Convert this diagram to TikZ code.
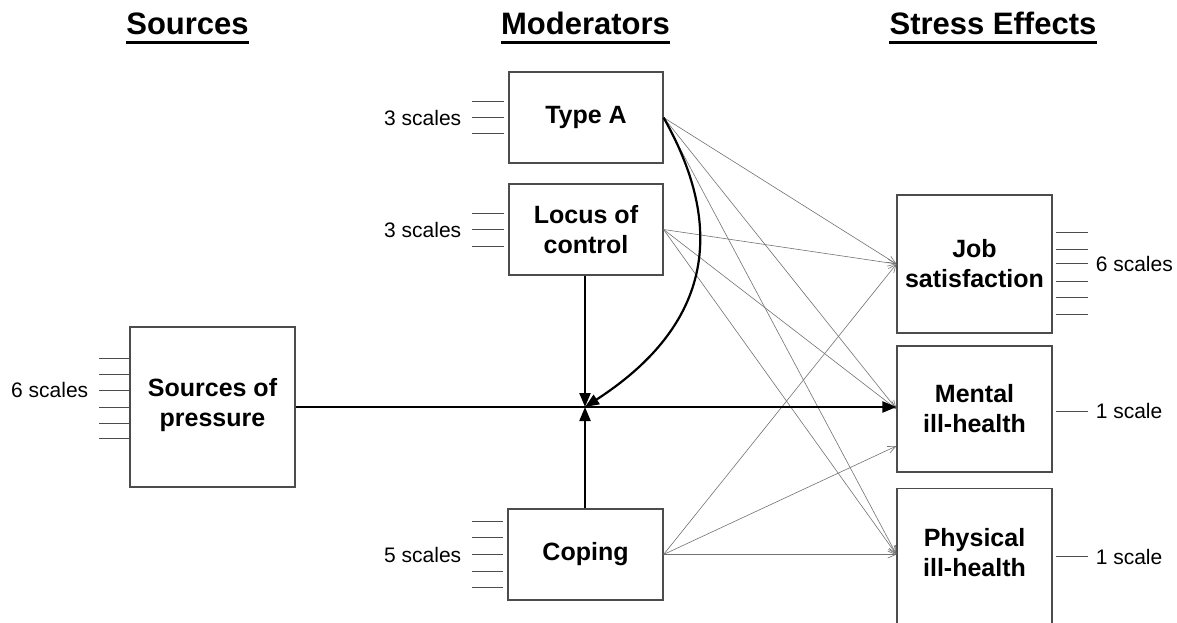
\documentclass[tikz,border=0pt]{standalone}
\usepackage{fontspec}
\setmainfont{Liberation Sans}
\usetikzlibrary{arrows.meta}
\begin{document}
\begin{tikzpicture}[x=1pt,y=-1pt,
  box/.style={draw=black!70,line width=1.1pt,inner sep=0pt,align=center,
    font=\fontsize{25}{30}\selectfont\bfseries,text=black},
  hdr/.style={inner sep=0pt,anchor=base,font=\fontsize{31}{36}\selectfont\bfseries},
  lbl/.style={inner sep=0pt,font=\fontsize{21}{24}\selectfont},
  scl/.style={draw=black!70,line width=0.8pt},
  thin/.style={draw=black!55,line width=0.6pt,-{Straight Barb[length=8pt,width=7pt]}},
  main/.style={draw=black,line width=2.2pt,-{Triangle[length=14pt,width=11pt]}}]
\useasboundingbox (0,0) rectangle (1177,623);
\clip (0,0) rectangle (1177,623);
\fill[white] (0,0) rectangle (1177,623);

% headers
\node[hdr] (hs) at (187.5,35) {Sources};
\node[hdr] (hm) at (585.5,35) {Moderators};
\node[hdr] (he) at (993,35) {Stress Effects};
\foreach \h in {hs,hm,he}
  \draw[line width=2.5pt] ([yshift=-7.5pt]\h.base west) -- ([yshift=-7.5pt]\h.base east);

% boxes
\node[box,minimum width=154pt,minimum height=91pt] (typeA) at (586,117.5) {Type A};
\node[box,minimum width=154pt,minimum height=91pt] (locus) at (586,229.5) {Locus of\\control};
\node[box,minimum width=155pt,minimum height=91pt] (coping) at (585.5,554.5) {Coping};
\node[box,minimum width=165pt,minimum height=160pt] (sources) at (212.5,407) {Sources of\\pressure\\[-20pt]\mbox{}};
\node[box,minimum width=155pt,minimum height=138pt] (job) at (974.5,264) {Job\\satisfaction};
\node[box,minimum width=155pt,minimum height=126pt] (mental) at (974.5,409) {Mental\\ill-health};
\node[box,minimum width=155pt,minimum height=150pt,anchor=north] (physical) at (974.5,488) {};
\node[inner sep=0pt,align=center,font=\fontsize{25}{30}\selectfont\bfseries] (phtext) at (974.5,553) {Physical\\ill-health};

% scale lines and labels
\foreach \dy in {-16,0,16}
  \draw[scl] ([shift={(-36,\dy)}]typeA.west) -- ++(32,0);
\node[lbl,anchor=east] (tAl) at ([xshift=-47pt]typeA.west) {3 scales};
\foreach \dy in {-16,0,17}
  \draw[scl] ([shift={(-36,\dy)}]locus.west) -- ++(32,0);
\node[lbl,anchor=east] (lcl) at ([xshift=-47pt]locus.west) {3 scales};
\foreach \dy in {-33,-17,0,17,33}
  \draw[scl] ([shift={(-35,\dy)}]coping.west) -- ++(31,0);
\node[lbl,anchor=east] (cpl) at ([xshift=-46pt]coping.west) {5 scales};
\foreach \dy in {-49,-33,-17,0,16,31}
  \draw[scl] ([shift={(-30,\dy)}]sources.west) -- ++(30,0);
\node[lbl,anchor=east] (spl) at ([shift={(-41,-17)}]sources.west) {6 scales};
\foreach \dy in {-32,-15,-1,17,33,50}
  \draw[scl] ([shift={(3,\dy)}]job.east) -- ++(32,0);
\node[lbl,anchor=west] (jbl) at ([xshift=43pt]job.east) {6 scales};
\draw[scl] ([shift={(3,2)}]mental.east) -- ++(32,0);
\node[lbl,anchor=west] (mnl) at ([shift={(43,2)}]mental.east) {1 scale};
\coordinate (phin) at (coping.east -| physical.west);
\coordinate (phout) at (coping.east -| physical.east);
\draw[scl] ([shift={(3,2)}]phout) -- ++(32,0);
\node[lbl,anchor=west] (phl) at ([shift={(43,2)}]phout) {1 scale};

% thin connectors
\coordinate (mlow) at ([yshift=-37pt]mental.west);
\foreach \s in {typeA,locus} {
  \draw[thin] (\s.east) -- (job.west);
  \draw[thin] (\s.east) -- (mental.west);
  \draw[thin] (\s.east) -- (phin);
}
\draw[thin] (coping.east) -- (job.west);
\draw[thin] (coping.east) -- (mlow);
\draw[thin] (coping.east) -- (phin);

% main connectors
\coordinate (J) at (585,407);
\draw[main] (sources.east) -- (sources.east -| mental.west);
\draw[main] (locus.south -| J) -- (J);
\draw[main] (coping.north -| J) -- (J);
\draw[main] (typeA.east) .. controls (710,200) and (735,310) .. (J);
\end{tikzpicture}
\end{document}
